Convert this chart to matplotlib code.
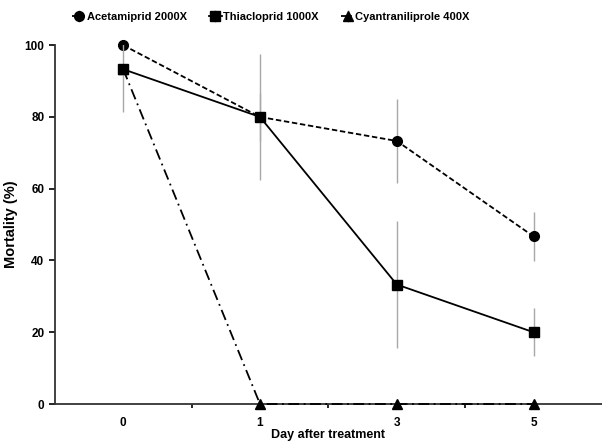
import numpy as np
import matplotlib
matplotlib.use("Agg")
import matplotlib.pyplot as plt

plt.rcParams["font.family"] = ["Liberation Sans", "DejaVu Sans"]
plt.rcParams["font.weight"] = "bold"

days = ["0", "1", "3", "5"]
acetamiprid = [100, 80, 73.3, 46.7]
acetamiprid_err = [0, 6.7, 11.7, 6.8]
thiacloprid = [93.3, 80, 33.3, 20]
thiacloprid_err = [11.8, 17.6, 17.7, 6.7]
cyantraniliprole = [93.3, 0, 0, 0]
cyantraniliprole_err = [0, 0, 0, 0]

x = np.arange(len(days))

fig = plt.figure(figsize=(6.02, 4.43), dpi=100)
ax = fig.add_axes([0.091, 0.088, 0.909, 0.81])

err_kw = dict(ecolor="#a8a8a8", elinewidth=1.0, capsize=0, clip_on=False)

# cyantraniliprole first so the square covers its day-0 point
c3 = ax.errorbar(x, cyantraniliprole, yerr=cyantraniliprole_err, color="black",
                 marker="^", markersize=7, lw=1.3, ls=(0, (6, 2.5, 1, 2.5)),
                 label="Cyantraniliprole 400X", zorder=3, **err_kw)
c1 = ax.errorbar(x, acetamiprid, yerr=acetamiprid_err, color="black",
                 marker="o", markersize=7, lw=1.3, ls=(0, (3, 1.5)),
                 label="Acetamiprid 2000X", zorder=4, **err_kw)
c2 = ax.errorbar(x, thiacloprid, yerr=thiacloprid_err, color="black",
                 marker="s", markersize=7.5, lw=1.3, ls="solid",
                 label="Thiacloprid 1000X", zorder=5, **err_kw)
# error bars stop at the top of the axis
for c in (c1, c2, c3):
    for bl in c[2]:
        bl.set_clip_on(True)

ax.set_xlim(-0.5, 3.5)
ax.set_ylim(0, 100)
ax.set_yticks([0, 20, 40, 60, 80, 100])
ax.set_xticks(x)
ax.set_xticklabels(days)
ax.set_xticks([0.5, 1.5, 2.5], minor=True)
ax.tick_params(axis="x", which="major", length=0, pad=9, labelsize=8.5)
ax.tick_params(axis="x", which="minor", length=3, direction="out", width=1.2)
ax.tick_params(axis="y", length=4, direction="out", width=1.2, labelsize=8.5)

for s in ["top", "right"]:
    ax.spines[s].set_visible(False)
for s in ["left", "bottom"]:
    ax.spines[s].set_linewidth(1.3)
    ax.spines[s].set_color("#333333")

ax.set_xlabel("Day after treatment", fontsize=9, fontweight="bold", labelpad=0)
ax.set_ylabel("Mortality (%)", fontsize=10.5, fontweight="bold", labelpad=5)

h, l = ax.get_legend_handles_labels()
order = [1, 2, 0]
fig.legend([h[i] for i in order], [l[i] for i in order], loc="center",
           bbox_to_anchor=(0.45, 0.962), ncol=3, frameon=False,
           handlelength=1.2, handletextpad=0.1, columnspacing=2.0,
           prop={"weight": "bold", "size": 8})

fig.savefig("out.png", dpi=100)
